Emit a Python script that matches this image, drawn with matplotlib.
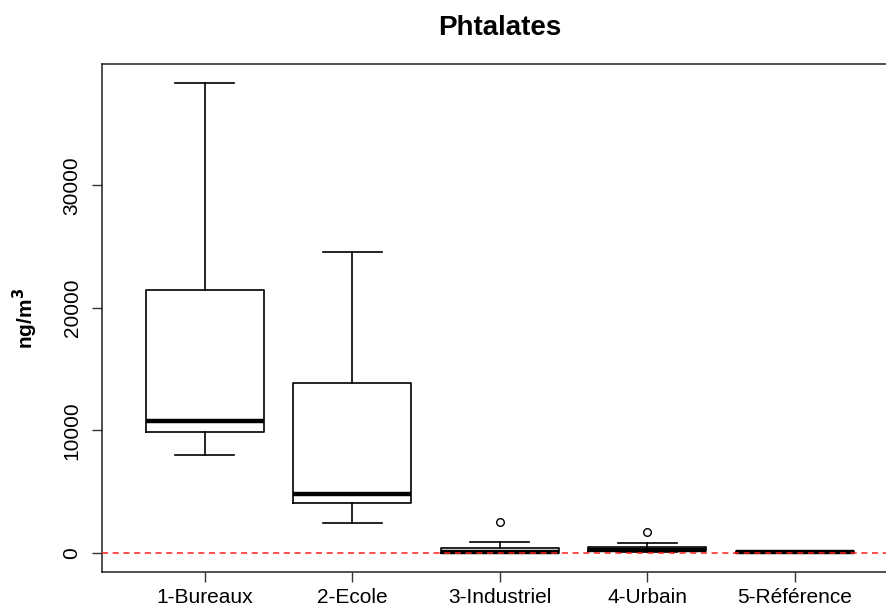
import matplotlib
matplotlib.use("Agg")
import matplotlib.pyplot as plt

plt.rcParams['font.family'] = ['Liberation Sans', 'DejaVu Sans']

categories = ["1-Bureaux", "2-Ecole", "3-Industriel", "4-Urbain", "5-Référence"]
whislo = [7990, 2430, 10, 50, 10]
q1 = [9870, 4070, 40, 160, 30]
med = [10770, 4800, 70, 250, 80]
q3 = [21480, 13880, 420, 520, 170]
whishi = [38320, 24590, 900, 820, 200]
fliers = [[], [], [2490], [1750], []]

stats = []
for i, c in enumerate(categories):
    stats.append(dict(label=c, whislo=whislo[i], q1=q1[i], med=med[i],
                      q3=q3[i], whishi=whishi[i], fliers=fliers[i]))

fig = plt.figure(figsize=(8.87, 6.10), dpi=100)
ax = fig.add_axes([101.7 / 887, 38 / 610, 796.5 / 887, 508 / 610])

ax.bxp(stats, positions=range(1, 6), widths=0.8, showfliers=True,
       boxprops=dict(color='black', linewidth=1.2),
       whiskerprops=dict(color='black', linewidth=1.2, linestyle='-'),
       capprops=dict(color='black', linewidth=1.2),
       medianprops=dict(color='black', linewidth=3.2, solid_capstyle='butt'),
       flierprops=dict(marker='o', markerfacecolor='white', markeredgecolor='black',
                       markersize=5.5, markeredgewidth=1.0),
       capwidths=0.4)

ax.axhline(0, color='#ff2020', linestyle=(0, (4, 3)), linewidth=1.1, zorder=5)

ax.set_xlim(0.3, 5.7)
ax.set_ylim(-1550, 39900)
ax.set_yticks([0, 10000, 20000, 30000])
ax.set_yticklabels(["0", "10000", "20000", "30000"], rotation=90, va='center')
ax.set_xticks(range(1, 6))
ax.set_xticklabels(categories)
ax.tick_params(axis='both', labelsize=15, length=7.5, width=1.0, color='#333333')
ax.tick_params(axis='x', pad=4)
ax.tick_params(axis='y', pad=7)
for s in ax.spines.values():
    s.set_linewidth(1.1)
    s.set_color('#222222')
ax.spines['right'].set_visible(False)

ax.set_title("Phtalates", fontsize=20, fontweight='bold', pad=21)
fig.text(25 / 887, 1 - 318 / 610, "ng/m$^\\mathbf{3}$", rotation=90, fontsize=15,
         fontweight='bold', ha='center', va='center')

fig.savefig("out.png", dpi=100)
